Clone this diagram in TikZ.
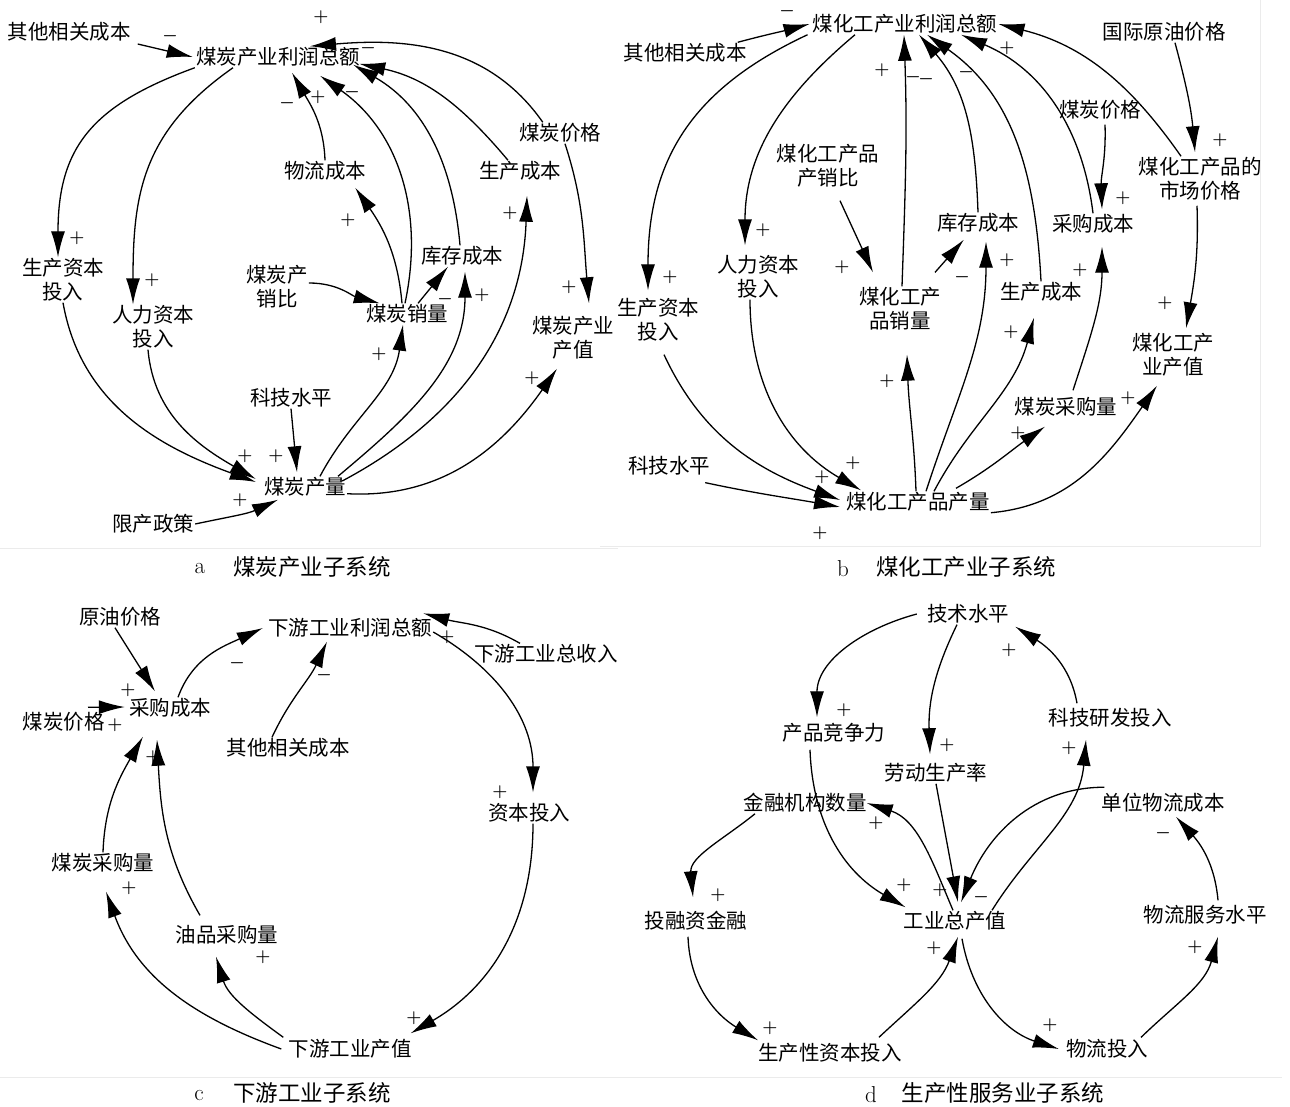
\documentclass[tikz,border=0pt]{standalone}
\usepackage{fontspec}
\newfontfamily\cjk{Noto Sans CJK SC}
\usetikzlibrary{arrows.meta}
\begin{document}
\begin{tikzpicture}[x=1pt,y=1pt,
  lbl/.style={font=\cjk\fontsize{20.5}{24}\selectfont, inner sep=1pt, align=center},
  sg/.style={font=\fontsize{16}{16}\selectfont\boldmath, inner sep=0pt},
  arr/.style={draw, line width=1.3pt, -{Latex[length=26pt,width=14pt]}},
  captxt/.style={font=\cjk\fontsize{22.5}{24}\selectfont, inner sep=0pt},
  capl/.style={font=\fontsize{23}{24}\selectfont, inner sep=0pt},
  frameline/.style={draw=black!8, line width=0.8pt}
]
\useasboundingbox (0,0) rectangle (1290,-1107);
\fill[white] (0,0) rectangle (1290,-1107);
% faint panel frames
\draw[frameline] (0,-548) -- (618,-548);
\draw[frameline] (600,-546) -- (1260,-546) -- (1260,0);
\draw[frameline] (0,-1077) -- (640,-1077);
\draw[frameline] (620,-1077) -- (1282,-1077);

% ================= panel a =================
\node[lbl] (a1) at (69,-32) {其他相关成本};
\node[lbl] (a2) at (278,-57) {煤炭产业利润总额};
\node[lbl] (a3) at (63,-280) {生产资本\\投入};
\node[lbl] (a4) at (153,-327) {人力资本\\投入};
\node[lbl] (a5) at (325,-171) {物流成本};
\node[lbl] (a6) at (520,-171) {生产成本};
\node[lbl] (a7) at (560,-133) {煤炭价格};
\node[lbl] (a8) at (462,-256) {库存成本};
\node[lbl] (a9) at (277,-287) {煤炭产\\销比};
\node[lbl] (a10) at (407,-314) {煤炭销量};
\node[lbl] (a11) at (573,-338) {煤炭产业\\产值};
\node[lbl] (a12) at (291,-398) {科技水平};
\node[lbl] (a13) at (305,-487) {煤炭产量};
\node[lbl] (a14) at (153,-524) {限产政策};

\draw[arr] ([shift={(6,-12)}]a1.east) -- ([xshift=-2]a2.west);
\draw[arr] ([xshift=25]a7.north west) to[out=125,in=5] ([xshift=32]a2.north);
\draw[arr] (a2.south west) to[out=200,in=90,looseness=1.2] ([xshift=-5]a3.north);
\draw[arr] ([xshift=-45]a2.south) to[out=215,in=90,looseness=1.1] ([xshift=-20]a4.north);
\draw[arr] (a5.north) to[out=92,in=300] ([shift={(14,-5)}]a2.south);
\draw[arr] ([xshift=-2]a10.north) to[out=78,in=325] ([shift={(42,-8)}]a2.south);
\draw[arr] ([xshift=-2]a8.north) to[out=95,in=330] ([shift={(-8,3)}]a2.south east);
\draw[arr] ([xshift=-12]a6.north) to[out=130,in=348] ([shift={(-2,4)}]a2.south east);
\draw[arr] ([yshift=4]a9.east) to[out=0,in=165] ([xshift=15]a10.north west);
\draw[arr] ([xshift=-5]a10.north) to[out=95,in=305] ([shift={(-12,-6)}]a5.south east);
\draw[arr] ([xshift=11]a10.north) -- ([xshift=-14]a8.south);
\draw[arr] ([xshift=15]a13.north) to[out=62,in=262] ([xshift=-4]a10.south);
\draw[arr] ([xshift=33]a13.north) to[out=40,in=270] ([shift={(3,-5)}]a8.south);
\draw[arr] ([shift={(-5,6)}]a13.east) to[out=28,in=268] ([shift={(7,-14)}]a6.south);
\draw[arr] ([yshift=4]a13.south east) to[out=-3,in=235] ([shift={(-16,-8)}]a11.south);
\draw[arr] ([xshift=5]a7.south) to[out=-72,in=95] ([shift={(16,12)}]a11.north);
\draw[arr] (a12.south) -- ([shift={(-8,4)}]a13.north);
\draw[arr] (a3.south) to[out=-80,in=160] ([shift={(-7,5)}]a13.west);
\draw[arr] ([xshift=-5]a4.south) to[out=-85,in=150] ([shift={(-7,8)}]a13.west);
\draw[arr] (a14.east) to[out=12,in=205] ([shift={(-27,-2)}]a13.south);

\node[sg] (sa1) at (170,-36) {$-$};
\node[sg] (sa2) at (321,-17) {$+$};
\node[sg] (sa3) at (368,-48) {$-$};
\node[sg] (sa4) at (287,-103) {$-$};
\node[sg] (sa5) at (318,-97) {$+$};
\node[sg] (sa6) at (352,-92) {$-$};
\node[sg] (sa7) at (77,-238) {$+$};
\node[sg] (sa8) at (152,-280) {$+$};
\node[sg] (sa9) at (348,-220) {$+$};
\node[sg] (sa10) at (445,-299) {$-$};
\node[sg] (sa11) at (482,-295) {$+$};
\node[sg] (sa12) at (379,-354) {$+$};
\node[sg] (sa13) at (510,-213) {$+$};
\node[sg] (sa14) at (532,-378) {$+$};
\node[sg] (sa15) at (569,-287) {$+$};
\node[sg] (sa16) at (245,-456) {$+$};
\node[sg] (sa17) at (276,-456) {$+$};
\node[sg] (sa18) at (240,-500) {$+$};

\node[capl] (capa1) at (200,-569) {a};
\node[captxt] (capa2) at (312,-567) {煤炭产业子系统};

% ================= panel b =================
\node[lbl] (b1) at (905,-24) {煤化工产业利润总额};
\node[lbl] (b2) at (685,-53) {其他相关成本};
\node[lbl] (b3) at (1164,-32) {国际原油价格};
\node[lbl] (b4) at (1100,-110) {煤炭价格};
\node[lbl] (b5) at (828,-166) {煤化工产品\\产销比};
\node[lbl] (b6) at (1200,-179) {煤化工产品的\\市场价格};
\node[lbl] (b7) at (978,-223) {库存成本};
\node[lbl] (b8) at (1093,-224) {采购成本};
\node[lbl] (b9) at (758,-277) {人力资本\\投入};
\node[lbl] (b10) at (658,-320) {生产资本\\投入};
\node[lbl] (b11) at (900,-309) {煤化工产\\品销量};
\node[lbl] (b12) at (1041,-292) {生产成本};
\node[lbl] (b13) at (1173,-355) {煤化工产\\业产值};
\node[lbl] (b14) at (1066,-407) {煤炭采购量};
\node[lbl] (b15) at (669,-466) {科技水平};
\node[lbl] (b16) at (918,-502) {煤化工产品产量};

\draw[arr] ([xshift=-10]b2.north east) to[out=15,in=195] ([xshift=-2]b1.west);
\draw[arr] ([xshift=-4]b1.south west) to[out=205,in=90,looseness=1.1] ([shift={(-10,7)}]b10.north);
\draw[arr] ([xshift=-50]b1.south) to[out=220,in=90] ([shift={(-13,9)}]b9.north);
\draw[arr] ([xshift=2]b11.north) to[out=88,in=272] ([xshift=-1]b1.south);
\draw[arr] (b7.north) to[out=92,in=311] ([xshift=14]b1.south);
\draw[arr] (b12.north) to[out=93,in=325] ([xshift=22]b1.south);
\draw[arr] (b8.north) to[out=97,in=337] ([xshift=56]b1.south);
\draw[arr] ([xshift=-19]b6.north) to[out=125,in=346] (b1.east);
\draw[arr] ([xshift=11]b3.south) to[out=-75,in=95] ([shift={(-5,4)}]b6.north);
\draw[arr] ([shift={(5,-4)}]b4.south) to[out=-88,in=92] ([shift={(9,4)}]b8.north);
\draw[arr] ([shift={(12,-12)}]b5.south) -- ([shift={(-27,14)}]b11.north);
\draw[arr] ([shift={(35,14)}]b11.north) -- ([shift={(28,-6)}]b7.south west);
\draw[arr] ([xshift=-2]b16.north) to[out=92,in=272] ([shift={(7,-23)}]b11.south);
\draw[arr] ([xshift=8]b16.north) to[out=72,in=270] ([shift={(8,-8)}]b7.south);
\draw[arr] ([xshift=16]b16.north) to[out=62,in=255] ([shift={(-7,-15)}]b12.south);
\draw[arr] ([shift={(38,3)}]b16.north) to[out=30,in=215] ([shift={(-21,-9)}]b14.south);
\draw[arr] ([shift={(7,6)}]b14.north) to[out=72,in=270] ([shift={(9,-12)}]b8.south);
\draw[arr] (b16.south east) to[out=5,in=235] ([shift={(-16,-8)}]b13.south);
\draw[arr] ([shift={(-3,-4)}]b6.south) to[out=-88,in=80] ([shift={(13,4)}]b13.north);
\draw[arr] ([shift={(6,-12)}]b10.south) to[out=-65,in=160] ([shift={(-5,2)}]b16.west);
\draw[arr] ([xshift=-8]b9.south) to[out=-90,in=150] ([shift={(16,1)}]b16.north west);
\draw[arr] ([shift={(-6,-6)}]b15.south east) to[out=-12,in=170] ([shift={(-5,-5)}]b16.west);

\node[sg] (sb1) at (787,-11) {$-$};
\node[sg] (sb2) at (670,-277) {$+$};
\node[sg] (sb3) at (763,-230) {$+$};
\node[sg] (sb4) at (882,-70) {$+$};
\node[sg] (sb5) at (913,-77) {$-$};
\node[sg] (sb6) at (926,-79) {$-$};
\node[sg] (sb7) at (966,-72) {$-$};
\node[sg] (sb8) at (1007,-48) {$+$};
\node[sg] (sb9) at (1220,-140) {$+$};
\node[sg] (sb10) at (1123,-198) {$+$};
\node[sg] (sb11) at (842,-267) {$+$};
\node[sg] (sb12) at (962,-277) {$-$};
\node[sg] (sb13) at (887,-381) {$+$};
\node[sg] (sb14) at (1007,-260) {$+$};
\node[sg] (sb15) at (1011,-332) {$+$};
\node[sg] (sb16) at (1018,-433) {$+$};
\node[sg] (sb17) at (1080,-270) {$+$};
\node[sg] (sb18) at (1128,-398) {$+$};
\node[sg] (sb19) at (1165,-303) {$+$};
\node[sg] (sb20) at (822,-477) {$+$};
\node[sg] (sb21) at (853,-463) {$+$};
\node[sg] (sb22) at (820,-533) {$+$};

\node[capl] (capb1) at (843,-569) {b};
\node[captxt] (capb2) at (966,-567) {煤化工产业子系统};

% ================= panel c =================
\node[lbl] (c1) at (120,-617) {原油价格};
\node[lbl] (c2) at (350,-628) {下游工业利润总额};
\node[lbl] (c3) at (546,-654) {下游工业总收入};
\node[lbl] (c4) at (170,-708) {采购成本};
\node[lbl] (c5) at (64,-722) {煤炭价格};
\node[lbl] (c6) at (288,-748) {其他相关成本};
\node[lbl] (c7) at (529,-813) {资本投入};
\node[lbl] (c8) at (103,-863) {煤炭采购量};
\node[lbl] (c9) at (227,-935) {油品采购量};
\node[lbl] (c10) at (350,-1049) {下游工业产值};

\draw[arr] ([xshift=-5]c1.south) -- ([shift={(-15,6)}]c4.north);
\draw[arr] ([shift={(24,4)}]c5.north) -- ([shift={(-3,1)}]c4.west);
\draw[arr] ([xshift=8]c4.north) to[out=70,in=205] ([xshift=-4]c2.west);
\draw[arr] ([xshift=-16]c6.north) to[out=65,in=245] ([shift={(-23,-3)}]c2.south);
\draw[arr] ([xshift=-26]c3.north) to[out=150,in=345] ([shift={(-10,4)}]c2.north east);
\draw[arr] ([yshift=-4]c2.east) to[out=-30,in=90] ([shift={(4,10)}]c7.north);
\draw[arr] ([xshift=4]c7.south) to[out=-90,in=30] ([shift={(-2,5)}]c10.north east);
\draw[arr] ([shift={(-4,1)}]c10.north west) to[out=144,in=287] ([shift={(-11,-11)}]c9.south);
\draw[arr] ([xshift=-6]c10.west) to[out=160,in=290] ([shift={(3,-18)}]c8.south);
\draw[arr] ([shift={(-27,9)}]c9.north) to[out=120,in=273] ([shift={(-13,-21)}]c4.south);
\draw[arr] (c8.north) to[out=88,in=240] ([shift={(-27,-18)}]c4.south);

\node[sg] (sc1) at (128,-690) {$+$};
\node[sg] (sc2) at (115,-725) {$+$};
\node[sg] (sc3) at (237,-663) {$-$};
\node[sg] (sc4) at (324,-675) {$-$};
\node[sg] (sc5) at (447,-637) {$+$};
\node[sg] (sc6) at (500,-792) {$+$};
\node[sg] (sc7) at (414,-1018) {$+$};
\node[sg] (sc8) at (263,-957) {$+$};
\node[sg] (sc9) at (129,-888) {$+$};
\node[sg] (sc10) at (153,-757) {$+$};

\node[capl] (capc1) at (199,-1095) {c};
\node[captxt] (capc2) at (312,-1093) {下游工业子系统};

% ================= panel d =================
\node[lbl] (d1) at (968,-614) {技术水平};
\node[lbl] (d2) at (834,-733) {产品竞争力};
\node[lbl] (d3) at (1110,-718) {科技研发投入};
\node[lbl] (d4) at (936,-773) {劳动生产率};
\node[lbl] (d5) at (805,-803) {金融机构数量};
\node[lbl] (d6) at (1163,-803) {单位物流成本};
\node[lbl] (d7) at (696,-921) {投融资金融};
\node[lbl] (d8) at (955,-921) {工业总产值};
\node[lbl] (d9) at (1205,-915) {物流服务水平};
\node[lbl] (d10) at (830,-1053) {生产性资本投入};
\node[lbl] (d11) at (1107,-1049) {物流投入};

\draw[arr] ([xshift=-9]d1.west) to[out=195,in=90] ([shift={(-17,5)}]d2.north);
\draw[arr] ([xshift=-11]d1.south) to[out=244,in=92] ([shift={(-6,8)}]d4.north);
\draw[arr] ([shift={(-33,4)}]d3.north) to[out=100,in=328] ([shift={(5,-2)}]d1.south east);
\draw[arr] ([xshift=37]d8.north) to[out=58,in=265] ([shift={(-24,-11)}]d3.south);
\draw[arr] (d4.south) -- ([shift={(3,8)}]d8.north);
\draw[arr] ([xshift=-2]d8.north) to[out=113,in=342] ([xshift=-1]d5.east);
\draw[arr] ([shift={(-24,-6)}]d2.south) to[out=-88,in=150] ([shift={(3,3)}]d8.north west);
\draw[arr] ([shift={(4,5)}]d6.north west) to[out=180,in=68] ([shift={(6,8)}]d8.north);
\draw[arr] ([xshift=-50]d5.south) to[out=219,in=95] ([shift={(-3,13)}]d7.north);
\draw[arr] ([shift={(-8,-5)}]d7.south) to[out=-88,in=149] ([shift={(1,2)}]d10.north west);
\draw[arr] ([shift={(-24,5)}]d10.north east) to[out=43,in=250] ([shift={(3,-5)}]d8.south);
\draw[arr] ([shift={(7,-7)}]d8.south) to[out=-80,in=162] ([xshift=-6]d11.west);
\draw[arr] ([shift={(34,1)}]d11.north) to[out=44,in=255] ([shift={(13,-11)}]d9.south);
\draw[arr] ([shift={(13,4)}]d9.north) to[out=95,in=312] ([shift={(13,-3)}]d6.south);

\node[sg] (sd1) at (844,-710) {$+$};
\node[sg] (sd2) at (947,-745) {$+$};
\node[sg] (sd3) at (1009,-650) {$+$};
\node[sg] (sd4) at (1069,-748) {$+$};
\node[sg] (sd5) at (876,-823) {$+$};
\node[sg] (sd6) at (904,-885) {$+$};
\node[sg] (sd7) at (940,-890) {$+$};
\node[sg] (sd8) at (981,-897) {$-$};
\node[sg] (sd9) at (718,-895) {$+$};
\node[sg] (sd10) at (770,-1028) {$+$};
\node[sg] (sd11) at (934,-948) {$+$};
\node[sg] (sd12) at (1050,-1025) {$+$};
\node[sg] (sd13) at (1195,-947) {$+$};
\node[sg] (sd14) at (1163,-833) {$-$};

\node[capl] (capd1) at (871,-1095) {d};
\node[captxt] (capd2) at (1003,-1093) {生产性服务业子系统};
\end{tikzpicture}
\end{document}
